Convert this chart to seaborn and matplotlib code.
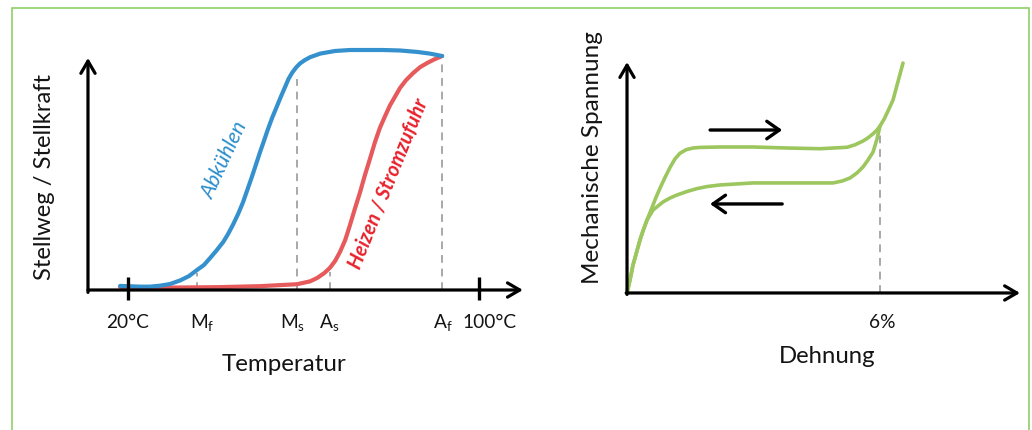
import matplotlib
matplotlib.use("Agg")
import matplotlib.pyplot as plt
import seaborn as sns
from matplotlib.patches import Rectangle

# ---------------- data ----------------
# Left chart: temperature (°C) vs. actuator travel (relative)
cool_T = [18.2, 22.7, 25.0, 27.3, 29.6, 31.9, 33.9, 35.7, 37.3, 38.7, 40.1, 41.7, 42.8,
          43.9, 45.1, 46.2, 47.1, 48.3, 49.2, 50.1, 51.0, 51.7, 52.8, 54.0, 54.9, 55.8,
          56.6, 57.4, 58.3, 59.2, 60.3, 61.5, 63.8, 67.2, 70.6, 78.1, 82.0, 85.9, 88.8, 91.6]
cool_y = [0.017, 0.014, 0.014, 0.018, 0.025, 0.040, 0.058, 0.083, 0.104, 0.133, 0.163,
          0.200, 0.233, 0.271, 0.317, 0.365, 0.412, 0.475, 0.525, 0.575, 0.622, 0.660,
          0.715, 0.768, 0.808, 0.846, 0.880, 0.905, 0.927, 0.944, 0.958, 0.970, 0.985,
          0.996, 1.000, 1.000, 0.998, 0.992, 0.985, 0.975]
heat_T = [18.2, 29.6, 41.0, 50.1, 58.5, 61.5, 63.1, 64.7, 66.0, 67.2, 68.3, 69.5, 70.6,
          71.7, 72.9, 74.0, 75.2, 76.3, 77.4, 78.6, 79.7, 80.9, 82.0, 83.4, 85.0, 86.6,
          88.2, 89.7, 91.6]
heat_y = [0.013, 0.010, 0.012, 0.016, 0.024, 0.036, 0.050, 0.070, 0.092, 0.121, 0.158,
          0.208, 0.271, 0.338, 0.408, 0.479, 0.550, 0.617, 0.675, 0.725, 0.769, 0.807,
          0.842, 0.875, 0.904, 0.929, 0.946, 0.960, 0.975]
mark_T = [35.7, 58.5, 66.0, 91.6]          # Mf, Ms, As, Af
mark_top = [0.07, 0.88, 0.075, 0.958]
scale_T = [20, 100]                          # tick marks
tick_labels = ["20°C", r"$\mathregular{M_f}$", r"$\mathregular{M_s}$",
               r"$\mathregular{A_s}$", r"$\mathregular{A_f}$", "100°C"]
tick_label_T = [20.0, 36.9, 57.4, 65.8, 91.8, 102.5]

# Right chart: strain (%) vs. stress (relative)
load_e = [0.0, 0.071, 0.142, 0.308, 0.379, 0.474, 0.617, 0.688, 0.783, 0.901, 1.020,
          1.138, 1.257, 1.399, 1.565, 1.731, 2.205, 2.988, 3.794, 4.577, 5.217, 5.407,
          5.596, 5.715, 5.834, 5.929, 6.0, 6.095, 6.166, 6.308, 6.545]
load_s = [0.0, 0.090, 0.193, 0.366, 0.428, 0.503, 0.607, 0.660, 0.723, 0.797, 0.866,
          0.925, 0.964, 0.988, 1.000, 1.004, 1.007, 1.007, 1.000, 0.995, 1.005, 1.022,
          1.048, 1.070, 1.098, 1.124, 1.152, 1.198, 1.241, 1.331, 1.586]
unload_e = [6.0, 5.929, 5.834, 5.715, 5.596, 5.454, 5.288, 5.098, 4.885, 3.794, 2.988,
            2.205, 1.897, 1.660, 1.423, 1.186, 1.020, 0.854, 0.735, 0.617, 0.474, 0.379,
            0.308, 0.142, 0.071, 0.0]
unload_s = [1.152, 1.062, 0.972, 0.917, 0.869, 0.828, 0.793, 0.772, 0.759, 0.759, 0.759,
            0.745, 0.734, 0.720, 0.700, 0.676, 0.655, 0.628, 0.600, 0.572, 0.503, 0.428,
            0.366, 0.193, 0.090, 0.0]
strain_mark = 6.0
strain_label = "6%"

# ---------------- style ----------------
sns.set_style("white")
plt.rcParams["font.family"] = ["Lato", "DejaVu Sans"]
TXT = "#141414"
BLUE = "#3591CD"
RED = "#E65A5C"
GREEN = "#9CC65E"
DASH = "#A8A8A8"

fig = plt.figure(figsize=(10.32, 4.30), dpi=100)
renderer = fig.canvas.get_renderer()


def fit_size(s, target_px, **kw):
    t = fig.text(0, 0, s, fontsize=20, **kw)
    w = t.get_window_extent(renderer).width
    t.remove()
    return 20 * target_px / w


# green frame
fig.patches.append(Rectangle((12 / 1032, -0.05), (1029 - 12) / 1032, 1.05 - 8 / 430,
                             transform=fig.transFigure, fill=False,
                             edgecolor="#8FD067", lw=1.2))

axis_arrow = dict(arrowstyle="->,head_length=0.55,head_width=0.32", lw=2.3,
                  color="black", mutation_scale=16, shrinkA=0, shrinkB=0)

# ================= left chart =================
axL = fig.add_axes([80 / 1032, 1 - 305 / 430, 455 / 1032, 265 / 430])
axL.set_xlim(9.06, 112.76)
axL.set_ylim(-0.0625, 1.0417)
axL.axis("off")

axL.vlines(mark_T, 0, mark_top, colors=DASH, lw=1.4, linestyles=(0, (4, 3)))
sns.lineplot(x=heat_T, y=heat_y, ax=axL, color=RED, lw=3.0, sort=False,
             estimator=None, solid_capstyle="round", solid_joinstyle="round")
sns.lineplot(x=cool_T, y=cool_y, ax=axL, color=BLUE, lw=3.0, sort=False,
             estimator=None, solid_capstyle="round", solid_joinstyle="round")

axL.annotate("", xy=(110.0, 0), xytext=(10.88, 0), arrowprops=axis_arrow)
axL.annotate("", xy=(10.88, 0.967), xytext=(10.88, -0.01), arrowprops=axis_arrow)
axL.vlines(scale_T, -0.042, 0.054, colors="black", lw=2.4)

fs_tick = fit_size("20°C", 43)
for lab, t in zip(tick_labels, tick_label_T):
    axL.text(t, -0.1375, lab, ha="center", va="center", fontsize=fs_tick, color=TXT)

axL.text(55.56, -0.3125, "Temperatur", ha="center", va="center",
         fontsize=fit_size("Temperatur", 125), color=TXT)
axL.text(1.08, 0.471, "Stellweg / Stellkraft", ha="center", va="center", rotation=90,
         fontsize=fit_size("Stellweg / Stellkraft", 207), color=TXT)
axL.text(42.0, 0.540, "Abkühlen", ha="center", va="center", rotation=65,
         rotation_mode="anchor", style="italic", color="#2A8DCB",
         fontsize=fit_size("Abkühlen", 83, style="italic"))
axL.text(79.5, 0.4417, "Heizen / Stromzufuhr", ha="center", va="center", rotation=68,
         rotation_mode="anchor", style="italic", weight="bold", color="#E8222C",
         fontsize=fit_size("Heizen / Stromzufuhr", 181, style="italic", weight="bold"))

# ================= right chart =================
axR = fig.add_axes([615 / 1032, 1 - 305 / 430, 410 / 1032, 255 / 430])
axR.set_xlim(-0.285, 9.438)
axR.set_ylim(-0.083, 1.676)
axR.axis("off")

axR.vlines([strain_mark], 0, 1.13, colors=DASH, lw=1.4, linestyles=(0, (4, 3)))
sns.lineplot(x=unload_e, y=unload_s, ax=axR, color=GREEN, lw=2.6, sort=False,
             estimator=None, solid_capstyle="round", solid_joinstyle="round")
sns.lineplot(x=load_e, y=load_s, ax=axR, color=GREEN, lw=2.6, sort=False,
             estimator=None, solid_capstyle="round", solid_joinstyle="round")

axR.annotate("", xy=(9.32, 0), xytext=(-0.02, 0), arrowprops=axis_arrow)
axR.annotate("", xy=(0, 1.593), xytext=(0, -0.01), arrowprops=axis_arrow)

dir_arrow = dict(arrowstyle="->,head_length=0.5,head_width=0.35", lw=2.4,
                 color="black", mutation_scale=18, shrinkA=0, shrinkB=0)
axR.annotate("", xy=(3.68, 1.124), xytext=(1.97, 1.124), arrowprops=dir_arrow)
axR.annotate("", xy=(1.97, 0.614), xytext=(3.68, 0.614), arrowprops=dir_arrow)

axR.text(6.047, -0.207, strain_label, ha="center", va="center",
         fontsize=fs_tick, color=TXT)
axR.text(4.743, -0.441, "Dehnung", ha="center", va="center",
         fontsize=fit_size("Dehnung", 97), color=TXT)
axR.text(-0.83, 0.931, "Mechanische Spannung", ha="center", va="center", rotation=90,
         fontsize=fit_size("Mechanische Spannung", 253), color=TXT)

fig.savefig("out.png", dpi=100)
